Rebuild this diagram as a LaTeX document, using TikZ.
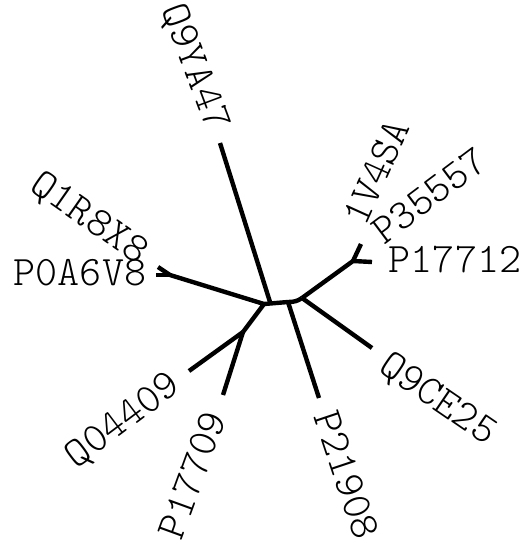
\documentclass[tikz,border=0pt]{standalone}
\usepackage{fontspec}
\setmonofont{Latin Modern Mono Light}
\begin{document}
\begin{tikzpicture}[x=1pt,y=-1pt,
  branch/.style={line width=4.4pt,line join=round,line cap=butt},
  leaflabel/.style={font=\ttfamily\fontsize{42}{42}\selectfont,inner sep=0pt,text depth=0pt,anchor=center}]
\useasboundingbox (0,0) rectangle (525,544);
% internal nodes
\coordinate (n1) at (264,304);
\coordinate (m1) at (270,302);
\coordinate (n2) at (288,302);
\coordinate (n3) at (302,298);
\coordinate (k1) at (353,261);
\coordinate (k2) at (170,275);
\coordinate (n4) at (243,332);
% leaves
\coordinate (lQ9YA47) at (220,143);
\coordinate (lP0A6V8) at (156,275);
\coordinate (lQ1R8X8) at (158,267);
\coordinate (lP17712) at (372,262);
\coordinate (l1V4SA) at (361,244);
\coordinate (lQ9CE25) at (372,348);
\coordinate (lP21908) at (319,398);
\coordinate (lQ04409) at (189,371);
\coordinate (lP17709) at (223,395);
% branches
\draw[branch] (k2) -- (n1) -- (n4);
\draw[branch] (n1) -- (n2) to[out=0,in=215] (n3);
\draw[branch] (m1) -- (lQ9YA47);
\draw[branch] (n2) -- (lP21908);
\draw[branch] (n3) -- (k1) -- (lP17712);
\draw[branch] (k1) -- (l1V4SA);
\draw[branch] (n3) -- (lQ9CE25);
\draw[branch] (n4) -- (lQ04409);
\draw[branch] (n4) -- (lP17709);
\draw[branch] (k2) -- (lP0A6V8);
\draw[branch] (k2) -- (lQ1R8X8);
% labels
\node[leaflabel] (tP0A6V8) at (80,272) {P0A6V8};
\node[leaflabel,rotate=-35] (tQ1R8X8) at (90.5,216.5) {Q1R8X8};
\node[leaflabel,rotate=-69.5] (tQ9YA47) at (197,67) {Q9YA47};
\node[leaflabel,rotate=65.7] (t1V4SA) at (376,172) {1V4SA};
\node[leaflabel,rotate=36.9] (tP35557) at (429,195) {P35557};
\node[leaflabel] (tP17712) at (455,259) {P17712};
\node[leaflabel,rotate=-34.4] (tQ9CE25) at (439,397.5) {Q9CE25};
\node[leaflabel,rotate=-71.5] (tP21908) at (346.7,475) {P21908};
\node[leaflabel,rotate=37] (tQ04409) at (121.7,419) {Q04409};
\node[leaflabel,rotate=70] (tP17709) at (191.7,475) {P17709};
\end{tikzpicture}
\end{document}
